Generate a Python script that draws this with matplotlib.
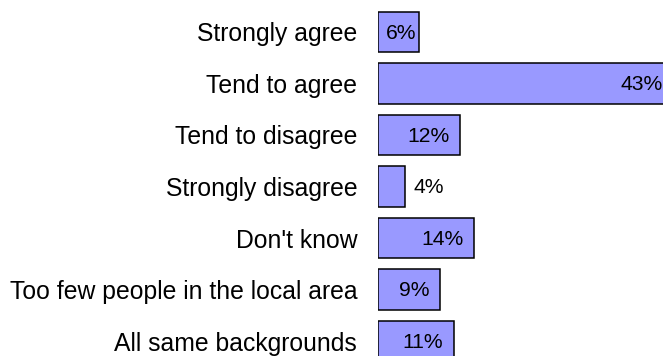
import matplotlib.pyplot as plt

plt.rcParams['font.family'] = ['Liberation Sans', 'DejaVu Sans']

# Survey responses (percent of respondents)
categories = ["Strongly agree", "Tend to agree", "Tend to disagree", "Strongly disagree",
              "Don't know", "Too few people in the local area", "All same backgrounds"]
values = [6, 43, 12, 4, 14, 9, 11]
labels = ["6%", "43%", "12%", "4%", "14%", "9%", "11%"]

fig = plt.figure(figsize=(6.63, 3.56), dpi=100)
ax = fig.add_axes([378 / 663, 0, 1 - 378 / 663, 1])

pos = list(range(len(categories)))
ax.barh(pos, values, height=0.78, color='#9999FF', edgecolor='black', linewidth=1.1)

# plot area runs off the right and bottom edges, so the longest bar is cut
ax.set_xlim(0, 41.5)
ax.set_ylim(6.29, -0.62)

ax.set_yticks(pos)
ax.set_yticklabels(categories, fontsize=17.8)
ax.tick_params(axis='y', length=0, pad=15)
ax.set_xticks([])
for s in ax.spines.values():
    s.set_visible(False)

for p, v, lab in zip(pos, values, labels):
    if v >= 9:
        ax.annotate(lab, (v, p), xytext=(-7.5, -1), textcoords='offset points',
                    ha='right', va='center', fontsize=15.2, annotation_clip=False)
    elif v >= 5:
        ax.annotate(lab, (v / 2, p), xytext=(1.5, -1), textcoords='offset points',
                    ha='center', va='center', fontsize=15.2)
    else:
        ax.annotate(lab, (v, p), xytext=(6, -1), textcoords='offset points',
                    ha='left', va='center', fontsize=15.2)

fig.savefig('out.png', dpi=100)
